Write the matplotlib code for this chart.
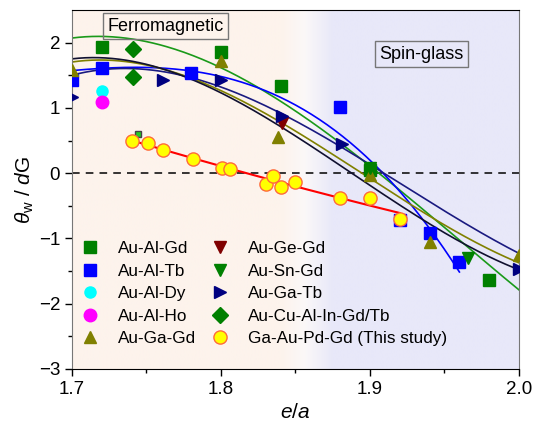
import numpy as np
import matplotlib.pyplot as plt
from matplotlib.colors import LinearSegmentedColormap

plt.rcParams['font.family'] = ['Liberation Sans', 'DejaVu Sans']
plt.rcParams['mathtext.fontset'] = 'custom'
plt.rcParams['mathtext.rm'] = 'Liberation Sans'
plt.rcParams['mathtext.it'] = 'Liberation Sans:italic'

# measured points, e/a vs theta_w/dG
au_al_gd_x = [1.72, 1.80, 1.84, 1.90, 1.98]
au_al_gd_y = [1.93, 1.86, 1.34, 0.05, -1.63]
au_al_tb_x = [1.70, 1.72, 1.78, 1.88, 1.92, 1.94, 1.96]
au_al_tb_y = [1.43, 1.61, 1.53, 1.02, -0.71, -0.91, -1.36]
au_al_dy_x = [1.72]
au_al_dy_y = [1.26]
au_al_ho_x = [1.72]
au_al_ho_y = [1.09]
au_ga_gd_x = [1.70, 1.80, 1.838, 1.90, 1.94, 2.00]
au_ga_gd_y = [1.58, 1.72, 0.56, -0.03, -1.05, -1.25]
au_ge_gd_x = [1.841]
au_ge_gd_y = [0.77]
au_sn_gd_x = [1.90, 1.966]
au_sn_gd_y = [0.08, -1.30]
au_ga_tb_x = [1.70, 1.761, 1.80, 1.841, 1.881, 2.00]
au_ga_tb_y = [1.17, 1.43, 1.43, 0.88, 0.44, -1.47]
au_cu_x = [1.741, 1.741]
au_cu_y = [1.91, 1.48]
extra_x = [1.744]
extra_y = [0.60]
this_x = [1.740, 1.751, 1.761, 1.781, 1.801, 1.806, 1.830, 1.835, 1.840, 1.850, 1.880, 1.900, 1.920]
this_y = [0.50, 0.46, 0.36, 0.22, 0.08, 0.07, -0.17, -0.04, -0.21, -0.14, -0.38, -0.38, -0.70]

# trend lines of the earlier alloy families (x, y pairs along each line)
green_x = [1.70, 1.741, 1.80, 1.84, 1.853, 1.907, 2.00]
green_y = [2.08, 2.02, 1.68, 1.07, 0.88, 0.00, -1.79]
blue_x = [1.70, 1.72, 1.78, 1.80, 1.84, 1.853, 1.88, 1.908, 1.94, 1.96]
blue_y = [1.57, 1.61, 1.55, 1.50, 1.15, 1.00, 0.62, 0.00, -0.85, -1.51]
navy_x = [1.70, 1.74, 1.80, 1.84, 1.853, 1.881, 1.911, 1.95, 2.00]
navy_y = [1.52, 1.55, 1.40, 0.89, 0.70, 0.44, 0.00, -0.61, -1.22]
olive_x = [1.70, 1.74, 1.80, 1.84, 1.853, 1.898, 1.95, 2.00]
olive_y = [1.71, 1.66, 1.38, 0.69, 0.56, 0.00, -0.79, -1.38]
black_x = [1.70, 1.74, 1.80, 1.84, 1.853, 1.89, 1.95, 2.00]
black_y = [1.75, 1.69, 1.36, 0.62, 0.46, 0.00, -0.87, -1.50]

fig = plt.figure(figsize=(5.34, 4.29), dpi=100)
ax = fig.add_axes([0.1348, 0.1399, 0.8371, 0.8368])

# background: ferromagnetic (peach) fading into spin-glass (lavender)
bg = LinearSegmentedColormap.from_list('bg', [
    (0.0, '#fdf3ec'), (0.467, '#fdf3ec'), (0.52, '#fbf8f8'),
    (0.583, '#e8e8f9'), (1.0, '#e8e8f9')])
ax.imshow(np.linspace(0, 1, 600).reshape(1, -1), cmap=bg, aspect='auto',
          extent=[1.7, 2.0, -3, 2.5], zorder=0, interpolation='bilinear')

ax.axhline(0, color='black', lw=1.1, ls=(0, (5, 4)), zorder=1)


def trend(xs, ys, color, deg=3, lw=1.2):
    p = np.polyfit(xs, ys, deg)
    xx = np.linspace(min(xs), max(xs), 200)
    ax.plot(xx, np.polyval(p, xx), color=color, lw=lw, zorder=2)


trend(green_x, green_y, '#1a9a1a')
trend(blue_x, blue_y, '#0000ff')
trend(navy_x, navy_y, '#1a1a80')
trend(olive_x, olive_y, '#808000')
trend(black_x, black_y, '#101030')
# quadratic fit of this study's points
trend(this_x, this_y, 'red', deg=2, lw=1.5)

ms = 8
ax.plot(au_al_gd_x, au_al_gd_y, 's', color='#008000', ms=ms, ls='none', label='Au-Al-Gd', zorder=3)
ax.plot(au_al_tb_x, au_al_tb_y, 's', color='#0000ff', ms=ms, ls='none', label='Au-Al-Tb', zorder=3)
ax.plot(au_al_dy_x, au_al_dy_y, 'o', color='#00ffff', ms=ms, ls='none', label='Au-Al-Dy', zorder=3)
ax.plot(au_al_ho_x, au_al_ho_y, 'o', color='#ff00ff', ms=ms + 1, ls='none', label='Au-Al-Ho', zorder=3)
ax.plot(au_ga_gd_x, au_ga_gd_y, '^', color='#808000', ms=ms + 1, ls='none', label='Au-Ga-Gd', zorder=3)
ax.plot(au_ge_gd_x, au_ge_gd_y, 'v', color='#800000', ms=ms + 1, ls='none', label='Au-Ge-Gd', zorder=3)
ax.plot(au_sn_gd_x, au_sn_gd_y, 'v', color='#008000', ms=ms + 1, ls='none', label='Au-Sn-Gd', zorder=3)
ax.plot(au_ga_tb_x, au_ga_tb_y, '>', color='#000080', ms=ms + 1, ls='none', label='Au-Ga-Tb', zorder=3)
ax.plot(au_cu_x, au_cu_y, 'D', color='#008000', ms=ms, ls='none', label='Au-Cu-Al-In-Gd/Tb', zorder=3)
ax.plot(extra_x, extra_y, 's', color='#22cc22', mec='#444444', ms=5, ls='none', zorder=3)
ax.plot(this_x, this_y, 'o', color='#ffff00', mec='#ff6a3a', mew=1, ms=9.5, ls='none',
        label='Ga-Au-Pd-Gd (This study)', zorder=5)

ax.set_xlim(1.7, 2.0)
ax.set_ylim(-3, 2.5)
ax.set_xticks([1.7, 1.8, 1.9, 2.0])
ax.set_xticks(np.arange(1.75, 2.0, 0.1), minor=True)
ax.set_yticks([-3, -2, -1, 0, 1, 2])
ax.set_yticks(np.arange(-2.5, 2.5, 1.0), minor=True)
ax.tick_params(which='both', direction='out', top=False, right=False, labelsize=13.5)
ax.tick_params(which='major', length=5, width=1)
ax.tick_params(which='minor', length=3, width=1)
for s in ['left', 'right']:
    ax.spines[s].set_color('#777777')
ax.set_xlabel(r'$e$/$a$', fontsize=15, labelpad=4)
ax.set_ylabel(r'$\theta_{\rm w}$ / $d$G', fontsize=15, labelpad=2)

box = dict(boxstyle='square,pad=0.25', fc='none', ec='#777777', lw=1)
ax.text(1.7238, 2.25, 'Ferromagnetic', fontsize=13, va='center', bbox=box, zorder=6)
ax.text(1.9064, 1.82, 'Spin-glass', fontsize=13, va='center', bbox=box, zorder=6)

ax.legend(ncol=2, loc='lower left', bbox_to_anchor=(-0.005, 0.03), frameon=False,
          fontsize=12.3, handlelength=1.0, handletextpad=1.1, columnspacing=0.95,
          labelspacing=0.44, borderaxespad=0.3)

fig.savefig('out.png', dpi=100)
